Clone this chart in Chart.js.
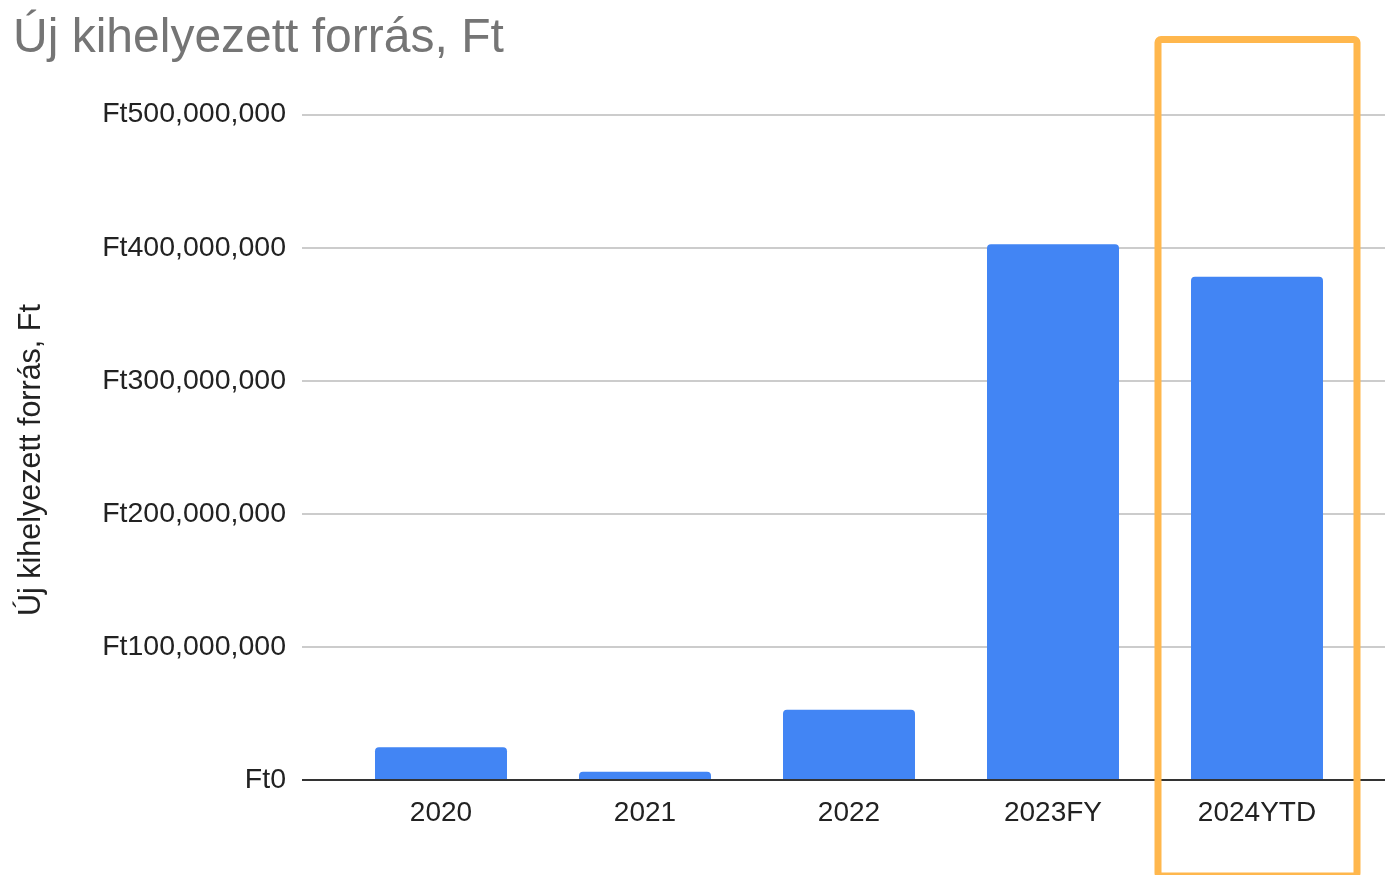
<!DOCTYPE html>
<html>
<head>
<meta charset="utf-8">
<script src="https://cdn.jsdelivr.net/npm/chart.js@4/dist/chart.umd.min.js"></script>
<style>
  html, body { margin: 0; padding: 0; background: #fff; }
  #wrap { width: 1385px; height: 875px; position: relative; }
</style>
</head>
<body>
<div id="wrap"><canvas id="chart"></canvas></div>
<script>
// adatok
const categories = ['2020', '2021', '2022', '2023FY', '2024YTD'];
const values = [24600000, 6200000, 52700000, 402500000, 378200000];
const yTicks = [0, 100000000, 200000000, 300000000, 400000000, 500000000];
const highlightIndex = 4;

const FONT = 'Arial, "Liberation Sans", sans-serif';

function formatFt(v) {
  return 'Ft' + Number(v).toLocaleString('en-US');
}

// vízszintes rácsvonalak szélesebben, mint a plot terület
const gridPlugin = {
  id: 'wideGrid',
  beforeDatasetsDraw(chart) {
    const { ctx, scales: { y } } = chart;
    ctx.save();
    ctx.strokeStyle = '#cccccc';
    ctx.lineWidth = 2;
    yTicks.forEach(t => {
      if (t === 0) return;
      const py = Math.round(y.getPixelForValue(t));
      ctx.beginPath();
      ctx.moveTo(302, py);
      ctx.lineTo(chart.width, py);
      ctx.stroke();
    });
    ctx.restore();
  },
  afterDatasetsDraw(chart) {
    const { ctx, scales: { y } } = chart;
    const py = Math.round(y.getPixelForValue(0));
    ctx.save();
    ctx.strokeStyle = '#333333';
    ctx.lineWidth = 2;
    ctx.beginPath();
    ctx.moveTo(302, py);
    ctx.lineTo(chart.width, py);
    ctx.stroke();
    ctx.restore();
  }
};

// narancs keret a 2024YTD oszlop körül
const highlightPlugin = {
  id: 'highlight',
  afterDraw(chart) {
    const { ctx, scales: { x, y } } = chart;
    const cx = x.getPixelForValue(highlightIndex);
    const catW = x.width / categories.length;
    const left = cx - catW / 2 + 3;
    const right = cx + catW / 2 - 2;
    const top = y.getPixelForValue(500000000) - 75;
    const bottom = chart.height + 1;
    ctx.save();
    ctx.strokeStyle = '#ffb74d';
    ctx.lineWidth = 7;
    ctx.lineJoin = 'round';
    ctx.beginPath();
    ctx.roundRect(left, top, right - left, bottom - top, 3);
    ctx.stroke();
    ctx.restore();
  }
};

new Chart(document.getElementById('chart').getContext('2d'), {
  type: 'bar',
  data: {
    labels: categories,
    datasets: [{
      label: 'Új kihelyezett forrás, Ft',
      data: values,
      backgroundColor: '#4285f4',
      borderRadius: { topLeft: 4, topRight: 4 },
      borderSkipped: 'bottom',
      categoryPercentage: 1,
      barPercentage: 0.647
    }]
  },
  options: {
    responsive: true,
    maintainAspectRatio: false,
    animation: false,
    layout: { padding: { left: 13, right: 26, top: 0, bottom: 0 } },
    plugins: {
      legend: { display: false },
      tooltip: { enabled: false },
      title: {
        display: true,
        text: 'Új kihelyezett forrás, Ft',
        align: 'start',
        color: '#757575',
        font: { family: FONT, size: 48, weight: 'normal' },
        padding: { top: 10, bottom: 47 }
      }
    },
    scales: {
      x: {
        grid: { display: false, drawTicks: false },
        border: { display: false },
        ticks: {
          color: '#222',
          font: { family: FONT, size: 28 },
          padding: 16,
          maxRotation: 0
        },
        afterFit(scale) { scale.height = 95; }
      },
      y: {
        min: 0,
        max: 500000000,
        grid: { display: false, drawTicks: false },
        border: { display: false },
        afterBuildTicks(scale) { scale.ticks = yTicks.map(v => ({ value: v })); },
        ticks: {
          color: '#222',
          font: { family: FONT, size: 28.5 },
          padding: 53,
          callback: v => formatFt(v)
        },
        title: {
          display: true,
          // a záró szóközök lejjebb tolják a feliratot, mint a mintán
          text: 'Új kihelyezett forrás, Ft\u00a0\u00a0\u00a0',
          color: '#222',
          font: { family: FONT, size: 30.5 },
          padding: { top: 0, bottom: 0 }
        },
        afterFit(scale) { scale.width = 326; }
      }
    }
  },
  plugins: [gridPlugin, highlightPlugin]
});
</script>
</body>
</html>
